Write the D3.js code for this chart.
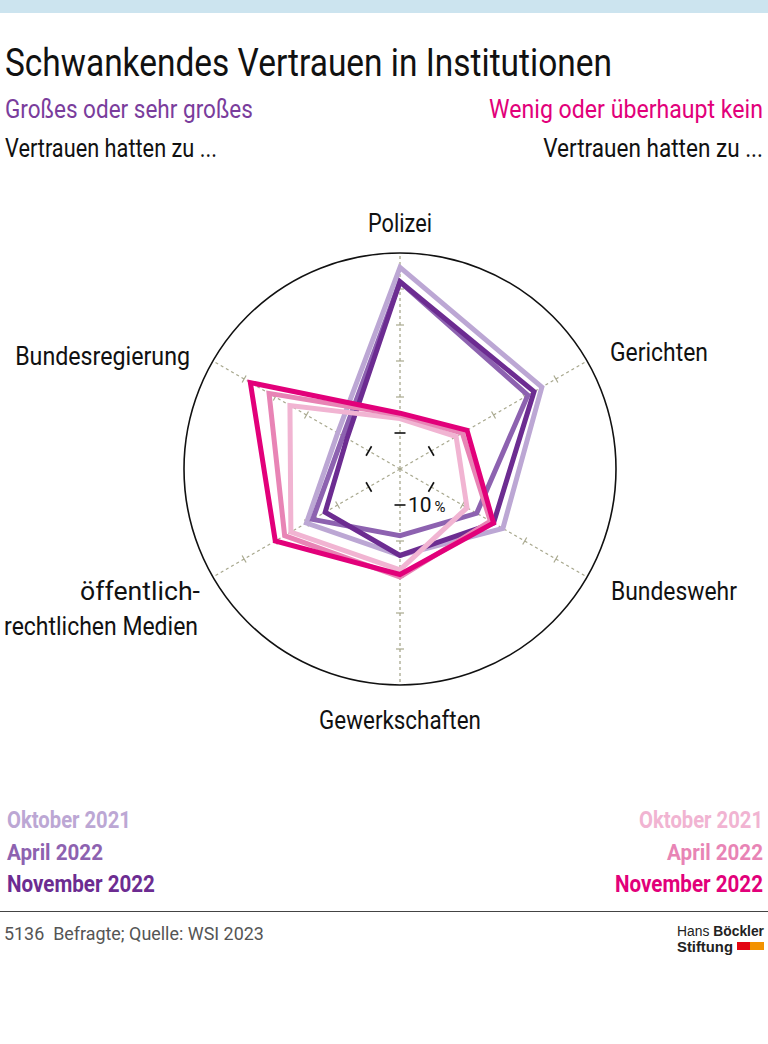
<!DOCTYPE html>
<html><head><meta charset="utf-8">
<script src="https://cdn.jsdelivr.net/npm/d3@7"></script>
<style>
html,body{margin:0;padding:0;background:#fff;}
svg{display:block;}
text{font-family:"Roboto","DejaVu Sans Condensed",sans-serif;}
</style></head>
<body>
<svg id="chart" width="768" height="1044"></svg>
<script>
// ---- data ----
const categories = ["Polizei","Gerichten","Bundeswehr","Gewerkschaften","öffentlich-rechtlichen Medien","Bundesregierung"];
const trustOct21 = [56, 45.5, 33, 24, 30, 20];
const trustApr22 = [52, 41, 24.6, 18.5, 28, 18.3];
const trustNov22 = [52, 43, 30, 24, 24, 17];
const distrustOct21 = [14, 18, 21.5, 28, 35, 35.3];
const distrustApr22 = [15, 20, 29, 30, 37, 42];
const distrustNov22 = [15.5, 21.5, 30, 29.3, 40, 48];
const seriesLabels = ["Oktober 2021","April 2022","November 2022"];
const gridTicks = [10, 20, 30, 40, 50];
const maxValue = 60;

const trustColors = ["#bca7d4", "#8d62b0", "#6c2c91"];
const distrustColors = ["#f1b4d2", "#e884b5", "#e2007a"];

const svg = d3.select("#chart");
const W = 768;

// text squeezed horizontally to a target width (condensed look)
function txt(x, y, s, o = {}) {
  const grp = svg.append("g").attr("transform", `translate(${x},${y})`);
  const t = grp.append("text").attr("x", 0).attr("y", 0)
    .attr("font-size", o.size || 24)
    .attr("fill", o.fill || "#111")
    .attr("text-anchor", o.anchor || "start")
    .attr("font-weight", o.weight || 400);
  if (o.family) t.style("font-family", o.family);
  if (Array.isArray(s)) {
    s.forEach(p => t.append("tspan").attr("font-weight", p.weight || null).text(p.text));
  } else t.text(s);
  if (o.width) {
    const len = t.node().getComputedTextLength();
    if (len > 0) grp.attr("transform", `translate(${x},${y}) scale(${o.width/len},1)`);
  }
  return t;
}

// top bar
svg.append("rect").attr("x",0).attr("y",0).attr("width",W).attr("height",13).attr("fill","#cce4ef");

// title & subtitles
txt(5, 76, "Schwankendes Vertrauen in Institutionen", {size: 39, width: 607});
txt(5, 118, "Großes oder sehr großes", {size: 25, fill: "#7a3d9c", width: 248});
txt(5, 157, "Vertrauen hatten zu ...", {size: 25, width: 212});
txt(763, 118, "Wenig oder überhaupt kein", {size: 25, fill: "#e2007a", anchor: "end", width: 274});
txt(763, 157, "Vertrauen hatten zu ...", {size: 25, anchor: "end", width: 220});

// radar
const cx = 400, cy = 469, R = 216;
const r = d3.scaleLinear().domain([0, maxValue]).range([0, R]);
const n = categories.length;
const ang = i => i * 2 * Math.PI / n;
const g = svg.append("g").attr("transform", `translate(${cx},${cy})`);

categories.forEach((c, i) => {
  const a = ang(i);
  g.append("line").attr("x1",0).attr("y1",0)
    .attr("x2", R*Math.sin(a)).attr("y2", -R*Math.cos(a))
    .attr("stroke","#a8a88e").attr("stroke-width",1.3).attr("stroke-dasharray","3,3");
  gridTicks.forEach(t => {
    const rr = r(t);
    const px = rr*Math.sin(a), py = -rr*Math.cos(a);
    const ux = Math.cos(a), uy = Math.sin(a);
    const len = t === 10 ? 5.5 : 4;
    g.append("line")
      .attr("x1", px - ux*len).attr("y1", py - uy*len)
      .attr("x2", px + ux*len).attr("y2", py + uy*len)
      .attr("stroke", t === 10 ? "#111" : "#a8a88e")
      .attr("stroke-width", t === 10 ? 1.6 : 1.2);
  });
});

g.append("circle").attr("r", R).attr("fill","none").attr("stroke","#111").attr("stroke-width",1.6);

const line = d3.lineRadial()
  .angle((d,i) => ang(i))
  .radius(d => r(d))
  .curve(d3.curveLinearClosed);

const allSeries = [
  {v: trustOct21, c: trustColors[0]},
  {v: trustApr22, c: trustColors[1]},
  {v: trustNov22, c: trustColors[2]},
  {v: distrustOct21, c: distrustColors[0]},
  {v: distrustApr22, c: distrustColors[1]},
  {v: distrustNov22, c: distrustColors[2]}
];
allSeries.forEach(s => {
  g.append("path").attr("d", line(s.v)).attr("fill","none")
    .attr("stroke", s.c).attr("stroke-width",5).attr("stroke-linejoin","miter").attr("stroke-miterlimit",10);
});

// 10 % label
const t10 = g.append("text").attr("x", 8).attr("y", r(10) + 7).attr("font-size",21).attr("fill","#111");
t10.append("tspan").text(gridTicks[0]);
t10.append("tspan").attr("font-size",15).attr("dx",3).text("%");

// category labels
const lf = 25;
txt(400, 232, categories[0], {size: lf, anchor: "middle", width: 64});
txt(610, 361, categories[1], {size: lf, width: 98});
txt(611, 600, categories[2], {size: lf, width: 126});
txt(400, 729, categories[3], {size: lf, anchor: "middle", width: 162});
const med = categories[4].split("-");
txt(200, 600, med[0] + "-", {size: lf, anchor: "end", width: 120});
txt(198, 635, med[1], {size: lf, anchor: "end", width: 194});
txt(190, 365, categories[5], {size: lf, anchor: "end", width: 175});

// legends
const legW = [124, 96, 148];
seriesLabels.forEach((l, i) => {
  txt(7, 828 + i*32, l, {size: 23, weight: "bold", fill: trustColors[i], width: legW[i]});
  txt(763, 828 + i*32, l, {size: 23, weight: "bold", fill: distrustColors[i], anchor: "end", width: legW[i]});
});

// footer
svg.append("line").attr("x1",0).attr("x2",W).attr("y1",911.5).attr("y2",911.5).attr("stroke","#444").attr("stroke-width",1.2);
txt(4, 940, "5136\u00a0\u00a0Befragte; Quelle: WSI 2023", {size: 19, fill: "#555", width: 260});
const logoFam = "'Liberation Sans',Arial,sans-serif";
txt(764, 936, [{text: "Hans "}, {text: "Böckler", weight: "bold"}], {size: 15, anchor: "end", fill: "#222", family: logoFam, width: 87});
txt(677, 952, "Stiftung", {size: 15, weight: "bold", fill: "#222", family: logoFam, width: 56});
svg.append("rect").attr("x",737).attr("y",942).attr("width",13).attr("height",8).attr("fill","#e30613");
svg.append("rect").attr("x",750).attr("y",942).attr("width",14).attr("height",8).attr("fill","#f39200");
</script>
</body></html>
